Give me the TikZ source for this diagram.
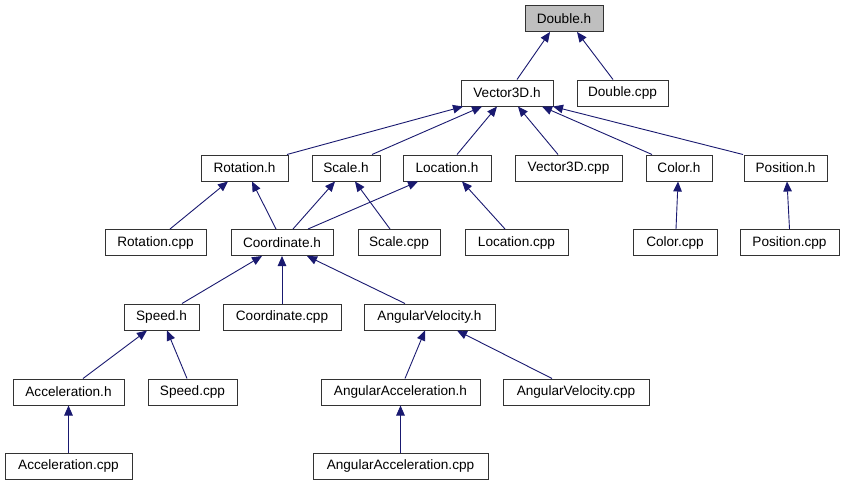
\documentclass[tikz,border=0pt]{standalone}
\usepackage{fontspec}
\setmainfont{Liberation Sans}
\usetikzlibrary{arrows.meta}
\definecolor{edgeblue}{HTML}{191970}
\definecolor{boxline}{HTML}{333333}
\definecolor{rootfill}{HTML}{BFBFBF}
\begin{document}
\begin{tikzpicture}[x=1pt,y=-1pt,
  box/.style={draw=boxline, line width=1pt, fill=white, minimum height=26pt, inner sep=0pt,
    font=\fontsize{13.6}{16}\selectfont},
  root/.style={box, fill=rootfill},
  dep/.style={draw=edgeblue, line width=0.9pt, {Triangle[length=10pt,width=8.5pt]}-}]
\useasboundingbox[fill=white] (0,0) rectangle (845,485);
% row 0
\node[root, minimum width=78pt] (doubleh) at (564,18.5) {Double.h};
% row 1
\node[box, minimum width=92pt] (vech) at (507,93) {Vector3D.h};
\node[box, minimum width=91pt] (doublecpp) at (622.5,93) {Double.cpp};
% row 2
\node[box, minimum width=87pt] (roth) at (244.5,168) {Rotation.h};
\node[box, minimum width=68pt] (scaleh) at (346,168) {Scale.h};
\node[box, minimum width=88pt] (loch) at (447,168) {Location.h};
\node[box, minimum width=107pt] (veccpp) at (568.5,168) {Vector3D.cpp};
\node[box, minimum width=66pt] (colorh) at (679,168) {Color.h};
\node[box, minimum width=83pt] (posh) at (785.5,168) {Position.h};
% row 3
\node[box, minimum width=101pt] (rotcpp) at (155.5,242.5) {Rotation.cpp};
\node[box, minimum width=102pt] (coordh) at (282,242.5) {Coordinate.h};
\node[box, minimum width=82pt] (scalecpp) at (399,242.5) {Scale.cpp};
\node[box, minimum width=103pt] (loccpp) at (516.5,242.5) {Location.cpp};
\node[box, minimum width=84pt] (colorcpp) at (675,242.5) {Color.cpp};
\node[box, minimum width=99pt] (poscpp) at (789.5,242.5) {Position.cpp};
% row 4
\node[box, minimum width=75pt] (speedh) at (161.5,317) {Speed.h};
\node[box, minimum width=118pt] (coordcpp) at (282,317) {Coordinate.cpp};
\node[box, minimum width=131pt] (avh) at (429.5,317) {AngularVelocity.h};
% row 5
\node[box, minimum width=111pt] (acch) at (68.5,392) {Acceleration.h};
\node[box, minimum width=89pt] (speedcpp) at (192.5,392) {Speed.cpp};
\node[box, minimum width=159pt] (aah) at (400.5,392) {AngularAcceleration.h};
\node[box, minimum width=146pt] (avcpp) at (576,392) {AngularVelocity.cpp};
% row 6
\node[box, minimum width=127pt] (acccpp) at (68.5,466) {Acceleration.cpp};
\node[box, minimum width=175pt] (aacpp) at (400.5,466) {AngularAcceleration.cpp};
% edges (arrow at the included header)
\draw[dep] ([xshift=-14pt]doubleh.south) -- ([xshift=10pt]vech.north);
\draw[dep] ([xshift=13pt]doubleh.south) -- ([xshift=-9.5pt]doublecpp.north);
\draw[dep] ([xshift=-44pt]vech.south) -- ([xshift=42.5pt]roth.north);
\draw[dep] ([xshift=-25pt]vech.south) -- ([xshift=26pt]scaleh.north);
\draw[dep] ([xshift=-10pt]vech.south) -- ([xshift=10pt]loch.north);
\draw[dep] ([xshift=11pt]vech.south) -- ([xshift=-10.5pt]veccpp.north);
\draw[dep] ([xshift=35pt]vech.south) -- ([xshift=-27pt]colorh.north);
\draw[dep] ([xshift=46pt]vech.south) -- ([xshift=-42.5pt]posh.north);
\draw[dep] ([xshift=-16.5pt]roth.south) -- ([xshift=14.5pt]rotcpp.north);
\draw[dep] ([xshift=7.5pt]roth.south) -- ([xshift=-6pt]coordh.north);
\draw[dep] ([xshift=-11pt]scaleh.south) -- ([xshift=11pt]coordh.north);
\draw[dep] ([xshift=-29pt]loch.south) -- ([xshift=26pt]coordh.north);
\draw[dep] ([xshift=9pt]scaleh.south) -- ([xshift=-9pt]scalecpp.north);
\draw[dep] ([xshift=15pt]loch.south) -- ([xshift=-11.5pt]loccpp.north);
\draw[dep] ([xshift=-1pt]colorh.south) -- ([xshift=1pt]colorcpp.north);
\draw[dep] ([xshift=1.5pt]posh.south) -- ([xshift=0pt]poscpp.north);
\draw[dep] ([xshift=-20pt]coordh.south) -- ([xshift=20.5pt]speedh.north);
\draw[dep] (coordh.south) -- (coordcpp.north);
\draw[dep] ([xshift=25pt]coordh.south) -- ([xshift=-24.5pt]avh.north);
\draw[dep] ([xshift=-14.5pt]speedh.south) -- ([xshift=14.5pt]acch.north);
\draw[dep] ([xshift=5.5pt]speedh.south) -- ([xshift=-5.5pt]speedcpp.north);
\draw[dep] ([xshift=-4.5pt]avh.south) -- ([xshift=4.5pt]aah.north);
\draw[dep] ([xshift=27.5pt]avh.south) -- ([xshift=-24pt]avcpp.north);
\draw[dep] (acch.south) -- (acccpp.north);
\draw[dep] (aah.south) -- (aacpp.north);
\end{tikzpicture}
\end{document}
